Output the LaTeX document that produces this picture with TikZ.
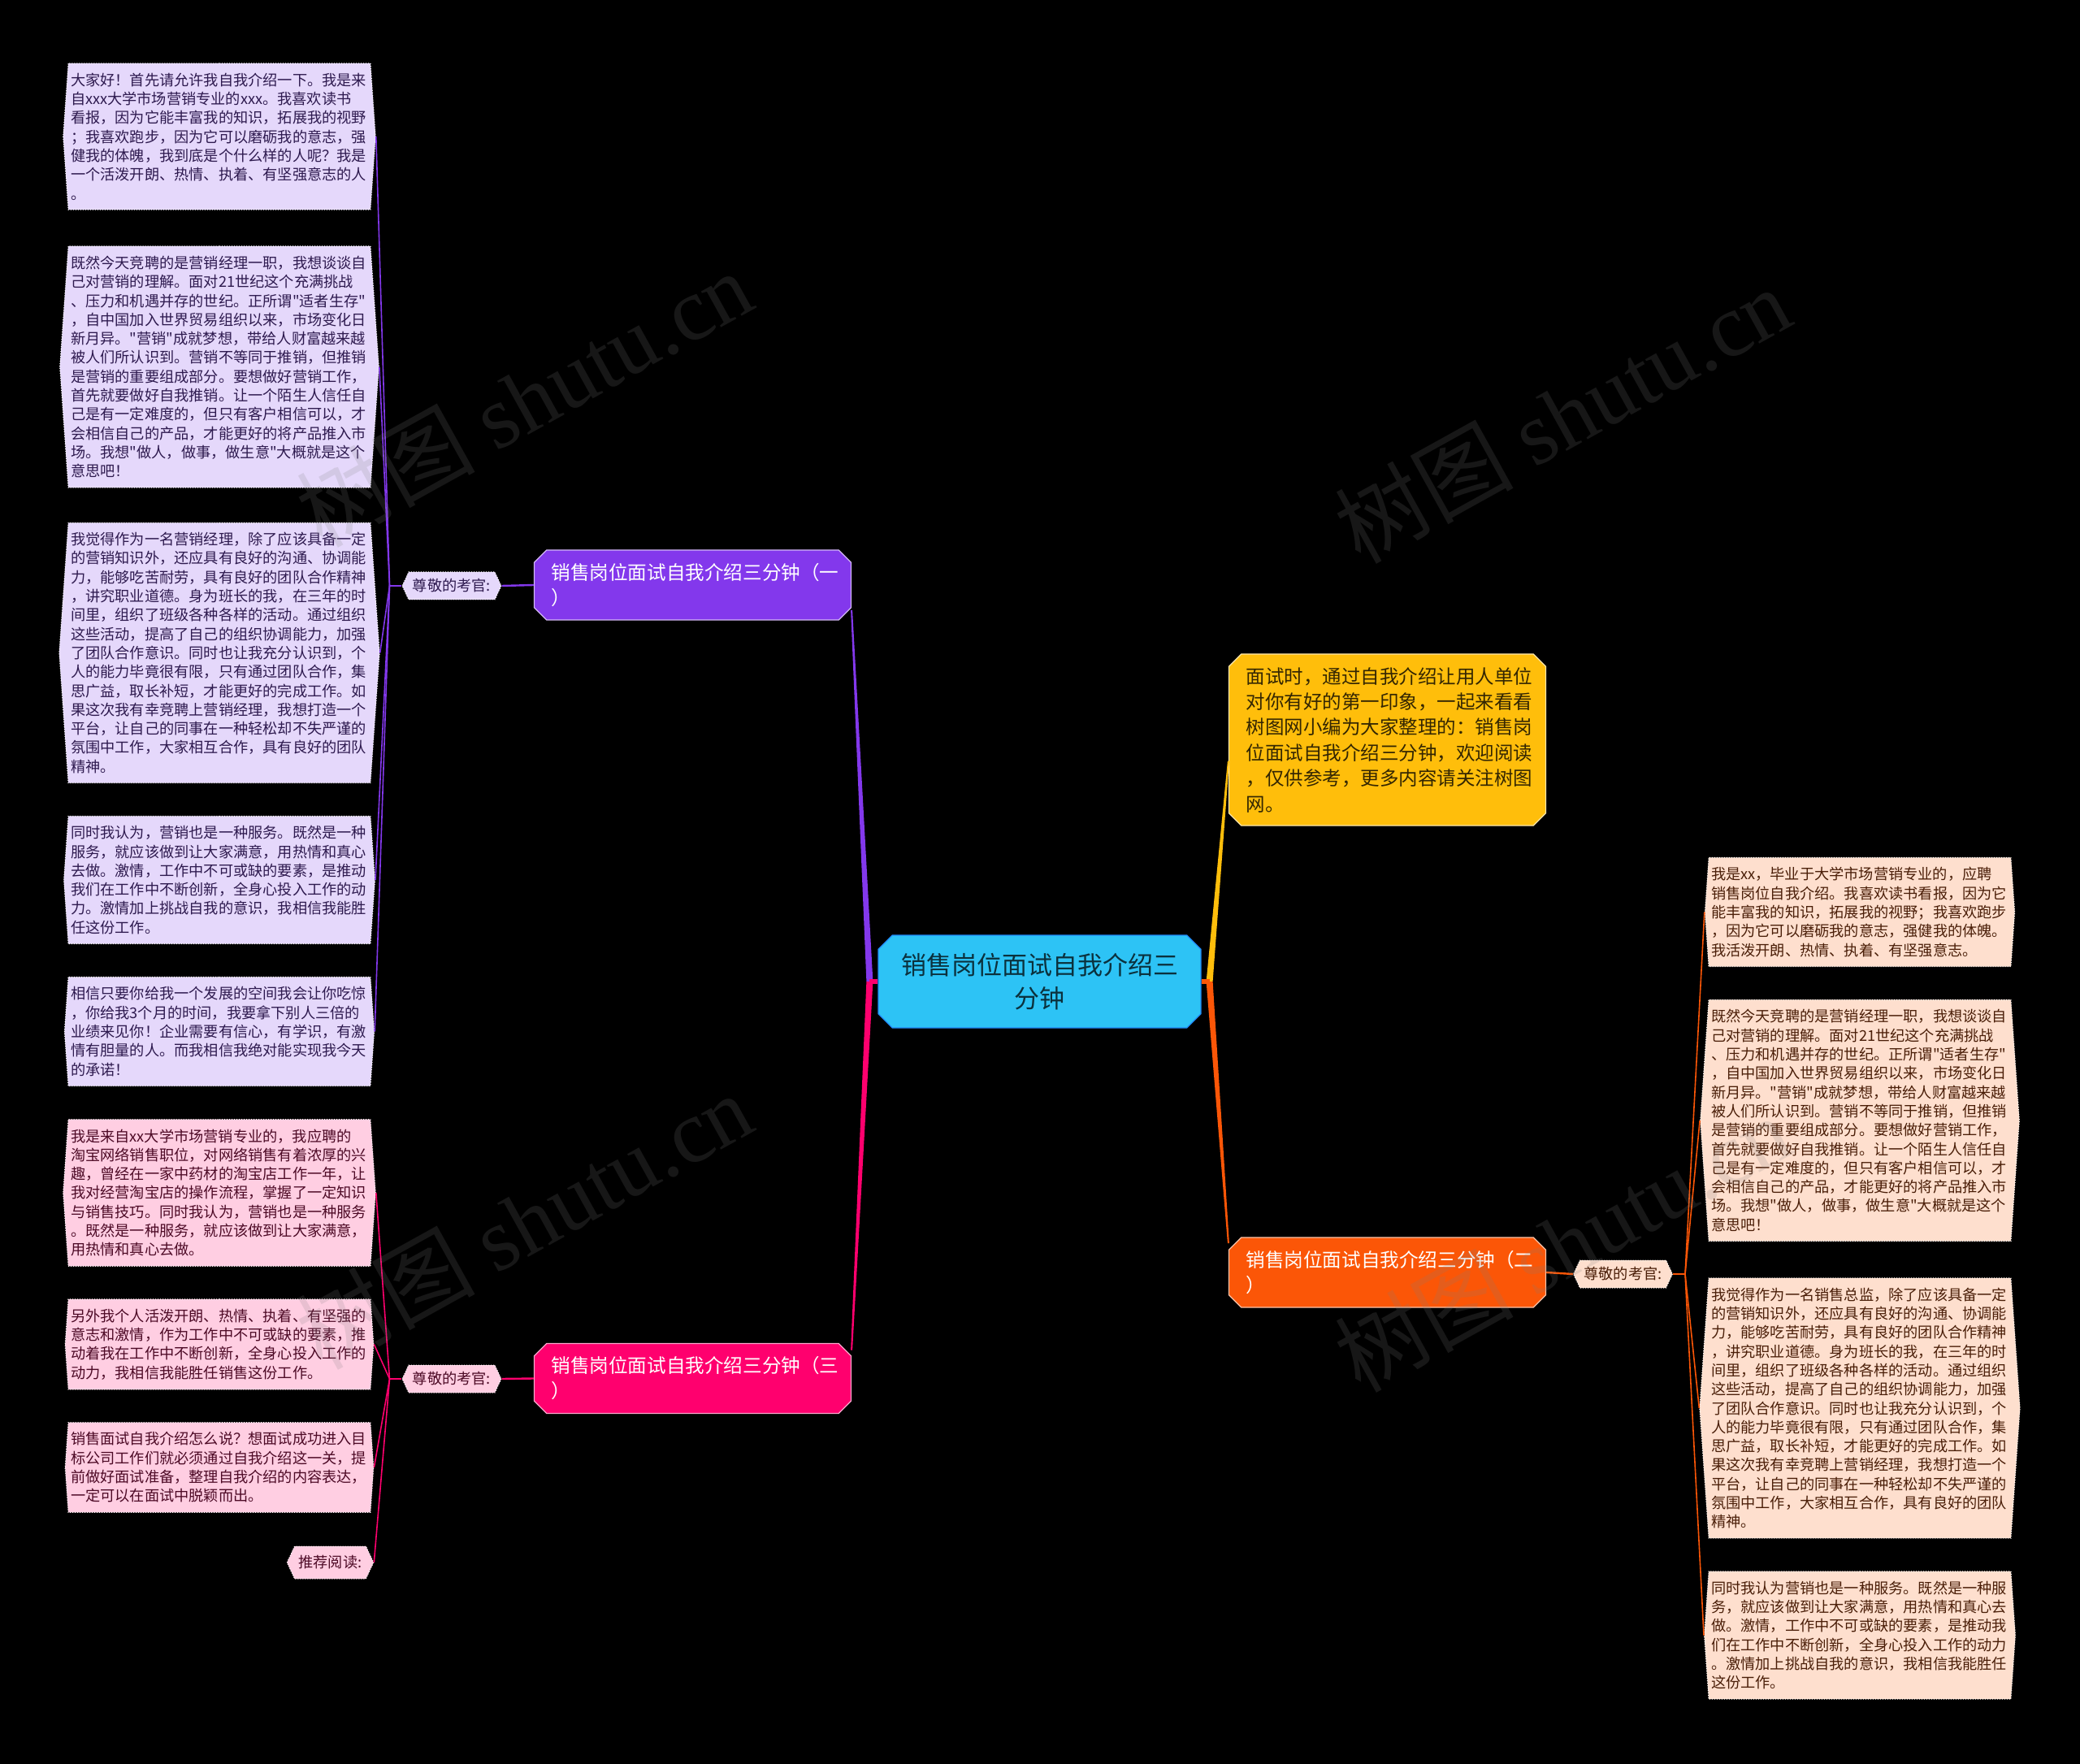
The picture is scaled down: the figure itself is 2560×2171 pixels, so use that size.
\documentclass[tikz,border=0pt]{standalone}
\usepackage{fontspec}
\setmainfont{Noto Sans CJK SC}[Ligatures=TeXOff]
\newfontfamily\wmfont{Liberation Serif}
\usetikzlibrary{shapes.misc, shapes.symbols, calc}

\definecolor{cpurple}{HTML}{8338EC}
\definecolor{cpink}{HTML}{FF006E}
\definecolor{corange}{HTML}{FB5607}
\definecolor{cyellow}{HTML}{FFBE0B}
\definecolor{ccyan}{HTML}{2DC3F5}
\definecolor{lpurple}{HTML}{E5D8FB}
\definecolor{lpink}{HTML}{FFCEE2}
\definecolor{lorange}{HTML}{FEDFCE}
\definecolor{tpurple}{HTML}{2E1A4F}
\definecolor{tpink}{HTML}{4D0A26}
\definecolor{torange}{HTML}{4A1E08}

\tikzset{
  rootbox/.style={chamfered rectangle, chamfered rectangle xsep=5pt, fill=ccyan, draw=ccyan!70!blue, line width=0.6pt, text=black!75!ccyan, font=\fontsize{15.5pt}{20.5pt}\selectfont, align=center, minimum width=198.5pt, minimum height=57pt},
  mainbox/.style={chamfered rectangle, chamfered rectangle xsep=4pt, draw=white!65!#1, fill=#1, line width=0.6pt, text=white, font=\fontsize{11.8pt}{15.5pt}\selectfont, text width=174pt, align=left, inner xsep=6.5pt, minimum height=43pt},
  introbox/.style={chamfered rectangle, chamfered rectangle xsep=4pt, draw=white!65!cyellow, fill=cyellow, line width=0.6pt, text=black!80!cyellow, font=\fontsize{11.75pt}{15.7pt}\selectfont, text width=174pt, align=left, inner xsep=6.5pt, minimum height=105.5pt},
  leaf/.style={signal, signal to=west and east, signal pointer angle=172, fill=#1, draw=white, densely dotted, line width=0.5pt, font=\fontsize{9.1pt}{11.65pt}\selectfont, text width=183pt, align=left, inner xsep=1.5pt, inner ysep=6pt},
  lab/.style={signal, signal to=west and east, signal pointer angle=130, fill=#1, draw=white, densely dotted, line width=0.5pt, font=\fontsize{9.1pt}{11pt}\selectfont, inner xsep=2.5pt, inner ysep=1pt, minimum height=17pt},
  link/.style={draw=#1, line width=0.8pt},
  watermark/.style={rotate=29, text=gray, text opacity=0.18, font=\fontsize{55pt}{60pt}\selectfont}
}

\begin{document}
\begin{tikzpicture}[x=0.5pt, y=-0.5pt]
  % Fondo
  \fill[black] (0,0) rectangle (2560,2171);
  \useasboundingbox (0,0) rectangle (2560,2171);

  % Nodo central y ramas principales
  \node (root) [rootbox] at (1279.5,1208) {销售岗位面试自我介绍三\\分钟};
  \node (intro) [introbox] at (1707.5,910.5) {面试时，通过自我介绍让用人单位\\对你有好的第一印象，一起来看看\\树图网小编为大家整理的：销售岗\\位面试自我介绍三分钟，欢迎阅读\\，仅供参考，更多内容请关注树图\\网。};
  \node (one) [mainbox=cpurple] at (852.5,720) {销售岗位面试自我介绍三分钟（一\\）};
  \node (two) [mainbox=corange] at (1707.5,1566) {销售岗位面试自我介绍三分钟（二\\）};
  \node (three) [mainbox=cpink] at (852.5,1696.5) {销售岗位面试自我介绍三分钟（三\\）};

  % Etiquetas
  \node (exa) [lab=lpurple, text=tpurple] at (556,721) {尊敬的考官:};
  \node (exb) [lab=lorange, text=torange] at (1997.5,1568) {尊敬的考官:};
  \node (exc) [lab=lpink, text=tpink] at (556,1697) {尊敬的考官:};
  \node (rec) [lab=lpink, text=tpink, minimum height=20pt] at (406.5,1923) {推荐阅读:};

  % Hojas (una)
  \node (a1) [leaf=lpurple, text=tpurple] at (270,168) {大家好！首先请允许我自我介绍一下。我是来\\自xxx大学市场营销专业的xxx。我喜欢读书\\看报，因为它能丰富我的知识，拓展我的视野\\；我喜欢跑步，因为它可以磨砺我的意志，强\\健我的体魄，我到底是个什么样的人呢？我是\\一个活泼开朗、热情、执着、有坚强意志的人\\。};
  \node (a2) [leaf=lpurple, text=tpurple] at (270,451.5) {既然今天竞聘的是营销经理一职，我想谈谈自\\己对营销的理解。面对21世纪这个充满挑战\\、压力和机遇并存的世纪。正所谓"适者生存"\\，自中国加入世界贸易组织以来，市场变化日\\新月异。"营销"成就梦想，带给人财富越来越\\被人们所认识到。营销不等同于推销，但推销\\是营销的重要组成部分。要想做好营销工作，\\首先就要做好自我推销。让一个陌生人信任自\\己是有一定难度的，但只有客户相信可以，才\\会相信自己的产品，才能更好的将产品推入市\\场。我想"做人，做事，做生意"大概就是这个\\意思吧！};
  \node (a3) [leaf=lpurple, text=tpurple] at (270,803.5) {我觉得作为一名营销经理，除了应该具备一定\\的营销知识外，还应具有良好的沟通、协调能\\力，能够吃苦耐劳，具有良好的团队合作精神\\，讲究职业道德。身为班长的我，在三年的时\\间里，组织了班级各种各样的活动。通过组织\\这些活动，提高了自己的组织协调能力，加强\\了团队合作意识。同时也让我充分认识到，个\\人的能力毕竟很有限，只有通过团队合作，集\\思广益，取长补短，才能更好的完成工作。如\\果这次我有幸竞聘上营销经理，我想打造一个\\平台，让自己的同事在一种轻松却不失严谨的\\氛围中工作，大家相互合作，具有良好的团队\\精神。};
  \node (a4) [leaf=lpurple, text=tpurple] at (270,1083) {同时我认为，营销也是一种服务。既然是一种\\服务，就应该做到让大家满意，用热情和真心\\去做。激情，工作中不可或缺的要素，是推动\\我们在工作中不断创新，全身心投入工作的动\\力。激情加上挑战自我的意识，我相信我能胜\\任这份工作。};
  \node (a5) [leaf=lpurple, text=tpurple] at (270,1269.5) {相信只要你给我一个发展的空间我会让你吃惊\\，你给我3个月的时间，我要拿下别人三倍的\\业绩来见你！企业需要有信心，有学识，有激\\情有胆量的人。而我相信我绝对能实现我今天\\的承诺！};

  % Hojas (dos)
  \node (b1) [leaf=lorange, text=torange] at (2289,1122.5) {我是xx，毕业于大学市场营销专业的，应聘\\销售岗位自我介绍。我喜欢读书看报，因为它\\能丰富我的知识，拓展我的视野；我喜欢跑步\\，因为它可以磨砺我的意志，强健我的体魄。\\我活泼开朗、热情、执着、有坚强意志。};
  \node (b2) [leaf=lorange, text=torange] at (2289,1379) {既然今天竞聘的是营销经理一职，我想谈谈自\\己对营销的理解。面对21世纪这个充满挑战\\、压力和机遇并存的世纪。正所谓"适者生存"\\，自中国加入世界贸易组织以来，市场变化日\\新月异。"营销"成就梦想，带给人财富越来越\\被人们所认识到。营销不等同于推销，但推销\\是营销的重要组成部分。要想做好营销工作，\\首先就要做好自我推销。让一个陌生人信任自\\己是有一定难度的，但只有客户相信可以，才\\会相信自己的产品，才能更好的将产品推入市\\场。我想"做人，做事，做生意"大概就是这个\\意思吧！};
  \node (b3) [leaf=lorange, text=torange] at (2289,1733) {我觉得作为一名销售总监，除了应该具备一定\\的营销知识外，还应具有良好的沟通、协调能\\力，能够吃苦耐劳，具有良好的团队合作精神\\，讲究职业道德。身为班长的我，在三年的时\\间里，组织了班级各种各样的活动。通过组织\\这些活动，提高了自己的组织协调能力，加强\\了团队合作意识。同时也让我充分认识到，个\\人的能力毕竟很有限，只有通过团队合作，集\\思广益，取长补短，才能更好的完成工作。如\\果这次我有幸竞聘上营销经理，我想打造一个\\平台，让自己的同事在一种轻松却不失严谨的\\氛围中工作，大家相互合作，具有良好的团队\\精神。};
  \node (b4) [leaf=lorange, text=torange] at (2289,2012.5) {同时我认为营销也是一种服务。既然是一种服\\务，就应该做到让大家满意，用热情和真心去\\做。激情，工作中不可或缺的要素，是推动我\\们在工作中不断创新，全身心投入工作的动力\\。激情加上挑战自我的意识，我相信我能胜任\\这份工作。};

  % Hojas (tres)
  \node (c1) [leaf=lpink, text=tpink] at (270,1468) {我是来自xx大学市场营销专业的，我应聘的\\淘宝网络销售职位，对网络销售有着浓厚的兴\\趣，曾经在一家中药材的淘宝店工作一年，让\\我对经营淘宝店的操作流程，掌握了一定知识\\与销售技巧。同时我认为，营销也是一种服务\\。既然是一种服务，就应该做到让大家满意，\\用热情和真心去做。};
  \node (c2) [leaf=lpink, text=tpink] at (270,1654.5) {另外我个人活泼开朗、热情、执着、有坚强的\\意志和激情，作为工作中不可或缺的要素，推\\动着我在工作中不断创新，全身心投入工作的\\动力，我相信我能胜任销售这份工作。};
  \node (c3) [leaf=lpink, text=tpink] at (270,1806) {销售面试自我介绍怎么说？想面试成功进入目\\标公司工作们就必须通过自我介绍这一关，提\\前做好面试准备，整理自我介绍的内容表达，\\一定可以在面试中脱颖而出。};

  % Conexiones principales (ramas que se adelgazan)
  \coordinate (lstem) at ($(root.west)+(-10,0)$);
  \coordinate (rstem) at ($(root.east)+(10,0)$);
  \fill[cpurple] ($(lstem)+(-4,0)$) -- ($(lstem)+(4,0)$) -- ($(one.east)+(1,31)$) -- ($(one.east)+(-1,31)$) -- cycle;
  \fill[cpink] ($(lstem)+(-4,0)$) -- ($(lstem)+(4,0)$) -- ($(three.east)+(1,-35)$) -- ($(three.east)+(-1,-35)$) -- cycle;
  \fill[cyellow] ($(rstem)+(-4,0)$) -- ($(rstem)+(4,0)$) -- ($(intro.west)+(1,26)$) -- ($(intro.west)+(-1,26)$) -- cycle;
  \fill[corange] ($(rstem)+(-4,0)$) -- ($(rstem)+(4,0)$) -- ($(two.west)+(1,-36)$) -- ($(two.west)+(-1,-36)$) -- cycle;
  \draw[cpink, line width=3pt] (root.west) -- (lstem);
  \draw[corange, line width=3pt] (root.east) -- (rstem);

  % Conexiones secundarias
  \coordinate (hubA) at ($(exa.west)+(-15,0)$);
  \coordinate (hubB) at ($(exb.east)+(15,0)$);
  \coordinate (hubC) at ($(exc.west)+(-15,0)$);
  \draw[link=cpurple, line width=1.2pt] (one.west) -- (exa.east);
  \draw[link=corange, line width=1.2pt] (two.east) -- (exb.west);
  \draw[link=cpink, line width=1.2pt] (three.west) -- (exc.east);
  \draw[link=cpurple] (exa.west) -- (hubA);
  \draw[link=corange] (exb.east) -- (hubB);
  \draw[link=cpink] (exc.west) -- (hubC);
  \foreach \n in {a1,a2,a3,a4,a5}
    \draw[link=cpurple] (hubA) -- (\n.east);
  \foreach \n in {b1,b2,b3,b4}
    \draw[link=corange] (hubB) -- (\n.west);
  \foreach \n in {c1,c2,c3,rec}
    \draw[link=cpink] (hubC) -- (\n.east);

  % Marca de agua
  \foreach \wx/\wy [count=\i] in {645/490, 1923/510, 645/1502, 1923/1530}
    \node (wm\i) [watermark] at (\wx,\wy) {树图 {\wmfont shutu.cn}};
\end{tikzpicture}
\end{document}
